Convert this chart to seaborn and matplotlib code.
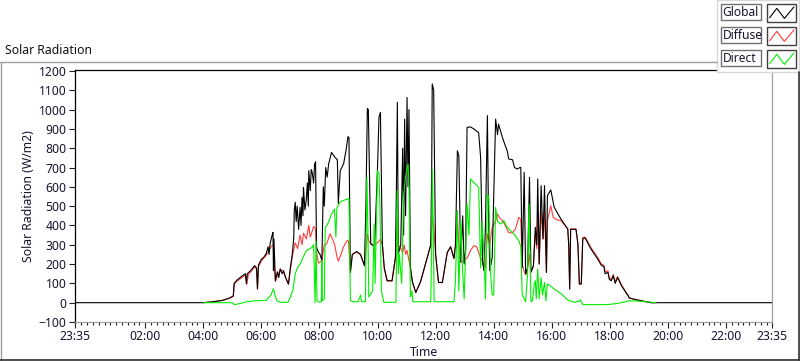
import pandas as pd
import matplotlib
matplotlib.use("Agg")
import matplotlib.pyplot as plt
import seaborn as sns
from matplotlib.lines import Line2D
from matplotlib.patches import Rectangle
from matplotlib.ticker import MultipleLocator, FuncFormatter

# Data ("-00:25" = 23:35 of the previous day)
global_time = [
    "-00:25", "04:00", "04:20", "04:40", "04:55", "05:02", "05:04", "05:10", "05:20", "05:27",
    "05:29", "05:31", "05:40", "05:46", "05:50", "05:52", "05:54", "06:00", "06:05", "06:10",
    "06:14", "06:16", "06:18", "06:22", "06:24", "06:25", "06:26", "06:29", "06:33", "06:36",
    "06:39", "06:43", "06:46", "06:50", "06:56", "07:00", "07:04", "07:07", "07:08", "07:10",
    "07:12", "07:14", "07:17", "07:20", "07:22", "07:24", "07:26", "07:27", "07:30", "07:33",
    "07:35", "07:37", "07:38", "07:41", "07:43", "07:45", "07:48", "07:50", "07:52", "07:54",
    "07:58", "08:01", "08:05", "08:08", "08:10", "08:13", "08:16", "08:19", "08:25", "08:33",
    "08:37", "08:39", "08:43", "08:50", "08:55", "08:59", "09:01", "09:04", "09:08", "09:17",
    "09:25", "09:33", "09:36", "09:39", "09:41", "09:46", "09:54", "10:00", "10:03", "10:06",
    "10:10", "10:14", "10:20", "10:30", "10:37", "10:39", "10:41", "10:43", "10:48", "10:52",
    "10:54", "10:56", "10:58", "11:01", "11:03", "11:05", "11:08", "11:12", "11:19", "11:29",
    "11:39", "11:50", "11:52", "11:53", "11:56", "12:00", "12:06", "12:14", "12:24", "12:31",
    "12:38", "12:41", "12:45", "12:48", "12:52", "12:56", "12:59", "13:02", "13:05", "13:12",
    "13:19", "13:29", "13:33", "13:37", "13:40", "13:43", "13:47", "13:49", "13:52", "13:57",
    "14:04", "14:08", "14:10", "14:18", "14:23", "14:28", "14:31", "14:39", "14:43", "14:49",
    "14:54", "14:56", "14:59", "15:03", "15:06", "15:10", "15:14", "15:17", "15:22", "15:26",
    "15:29", "15:31", "15:34", "15:38", "15:42", "15:45", "15:49", "15:51", "15:58", "16:05",
    "16:19", "16:33", "16:35", "16:37", "16:39", "16:50", "16:54", "16:57", "17:01", "17:04",
    "17:09", "17:21", "17:35", "17:42", "17:48", "17:50", "17:56", "17:59", "18:03", "18:07",
    "18:11", "18:16", "18:24", "18:35", "18:38", "18:40", "18:50", "19:05", "19:25", "23:35",
]
global_wm2 = [
    0, 0, 5, 12, 25, 35, 100, 118, 138, 150,
    98, 150, 172, 192, 180, 72, 195, 225, 235, 255,
    290, 250, 304, 347, 364, 166, 330, 114, 160, 130,
    175, 150, 165, 131, 97, 183, 252, 338, 477, 520,
    420, 500, 380, 494, 400, 545, 450, 597, 480, 537,
    620, 500, 684, 580, 690, 675, 620, 718, 730, 287,
    260, 252, 218, 600, 500, 700, 650, 718, 778, 750,
    740, 513, 684, 720, 790, 860, 855, 157, 250, 265,
    250, 192, 500, 1005, 1000, 305, 290, 700, 960, 986,
    305, 180, 114, 114, 235, 600, 1037, 253, 300, 800,
    350, 950, 450, 1063, 600, 1000, 183, 110, 53, 110,
    200, 300, 700, 1133, 1100, 253, 105, 105, 260, 290,
    230, 300, 787, 760, 210, 450, 200, 270, 908, 910,
    900, 880, 752, 218, 166, 400, 969, 500, 166, 235,
    951, 870, 925, 856, 820, 787, 744, 740, 700, 692,
    700, 700, 183, 675, 149, 180, 649, 160, 190, 390,
    300, 641, 200, 606, 330, 606, 157, 554, 584, 494,
    433, 382, 300, 71, 380, 380, 304, 97, 97, 330,
    335, 278, 226, 195, 185, 150, 157, 120, 114, 140,
    100, 130, 88, 45, 38, 24, 18, 10, 0, 0,
]

diffuse_time = [
    "04:00", "04:20", "04:40", "04:55", "05:02", "05:04", "05:10", "05:20", "05:28", "05:30",
    "05:33", "05:40", "05:45", "05:50", "05:52", "05:54", "06:00", "06:05", "06:10", "06:20",
    "06:25", "06:27", "06:29", "06:33", "06:39", "06:45", "06:50", "06:56", "07:00", "07:04",
    "07:10", "07:15", "07:20", "07:24", "07:27", "07:33", "07:38", "07:41", "07:45", "07:48",
    "07:52", "07:54", "07:58", "08:01", "08:05", "08:10", "08:15", "08:22", "08:27", "08:32",
    "08:36", "08:39", "08:43", "08:50", "08:57", "09:00", "09:04", "09:08", "09:17", "09:25",
    "09:33", "09:37", "09:39", "09:42", "09:46", "09:52", "10:00", "10:04", "10:06", "10:10",
    "10:14", "10:20", "10:30", "10:37", "10:41", "10:43", "10:48", "10:52", "10:55", "10:58",
    "11:01", "11:04", "11:08", "11:12", "11:19", "11:29", "11:39", "11:50", "11:53", "11:56",
    "12:00", "12:06", "12:14", "12:24", "12:31", "12:38", "12:41", "12:45", "12:48", "12:52",
    "12:59", "13:05", "13:12", "13:19", "13:25", "13:33", "13:37", "13:40", "13:43", "13:47",
    "13:52", "13:57", "14:04", "14:08", "14:12", "14:18", "14:24", "14:31", "14:38", "14:45",
    "14:52", "14:56", "14:59", "15:03", "15:06", "15:10", "15:14", "15:17", "15:22", "15:26",
    "15:29", "15:31", "15:34", "15:38", "15:42", "15:45", "15:49", "15:51", "15:58", "16:03",
    "16:10", "16:19", "16:33", "16:35", "16:37", "16:39", "16:50", "16:54", "16:57", "17:01",
    "17:04", "17:09", "17:21", "17:35", "17:42", "17:48", "17:50", "17:56", "17:59", "18:03",
    "18:07", "18:11", "18:16", "18:24", "18:35", "18:40", "18:50", "19:05", "19:25", "19:35",
]
diffuse_wm2 = [
    0, 5, 12, 24, 33, 98, 112, 130, 145, 95,
    145, 165, 185, 175, 70, 185, 215, 230, 245, 290,
    300, 180, 110, 140, 170, 165, 130, 95, 170, 240,
    310, 280, 350, 300, 360, 330, 400, 340, 370, 395,
    380, 260, 205, 210, 218, 300, 305, 357, 330, 295,
    240, 215, 240, 290, 321, 320, 160, 250, 262, 248,
    190, 300, 357, 320, 305, 300, 310, 321, 330, 300,
    175, 112, 112, 233, 442, 300, 280, 260, 300, 250,
    270, 230, 180, 108, 52, 108, 198, 298, 442, 400,
    250, 104, 104, 258, 288, 228, 290, 442, 300, 210,
    218, 230, 270, 295, 290, 230, 215, 166, 183, 357,
    300, 390, 425, 459, 440, 425, 400, 364, 360, 382,
    442, 430, 200, 160, 145, 180, 250, 155, 190, 357,
    280, 459, 200, 477, 330, 477, 157, 425, 502, 442,
    430, 425, 382, 300, 70, 382, 382, 305, 97, 97,
    338, 340, 285, 234, 202, 192, 160, 165, 128, 120,
    146, 108, 136, 92, 48, 26, 18, 10, 0, 0,
]

direct_time = [
    "04:00", "05:00", "05:04", "05:15", "05:30", "05:50", "06:10", "06:20", "06:25", "06:28",
    "06:32", "06:40", "06:55", "07:00", "07:05", "07:10", "07:15", "07:20", "07:25", "07:33",
    "07:40", "07:45", "07:48", "07:51", "07:53", "07:55", "08:00", "08:04", "08:05", "08:06",
    "08:10", "08:12", "08:17", "08:25", "08:31", "08:34", "08:36", "08:42", "08:50", "08:59",
    "09:01", "09:04", "09:10", "09:20", "09:25", "09:27", "09:35", "09:38", "09:40", "09:42",
    "09:46", "09:50", "09:53", "09:55", "10:00", "10:03", "10:05", "10:08", "10:13", "10:38",
    "10:41", "10:43", "10:45", "10:50", "10:54", "10:58", "11:01", "11:03", "11:05", "11:08",
    "11:11", "11:13", "11:50", "11:52", "11:53", "11:55", "11:57", "12:38", "12:41", "12:45",
    "12:48", "12:52", "12:55", "12:59", "13:02", "13:05", "13:09", "13:12", "13:29", "13:33",
    "13:36", "13:40", "13:43", "13:47", "13:50", "13:54", "13:57", "14:00", "14:04", "14:08",
    "14:15", "14:21", "14:28", "14:42", "14:52", "14:56", "14:59", "15:06", "15:10", "15:13",
    "15:17", "15:20", "15:24", "15:26", "15:28", "15:31", "15:34", "15:38", "15:41", "15:45",
    "15:48", "15:51", "15:58", "16:05", "16:20", "16:33", "16:47", "16:57", "16:59", "17:02",
    "17:04", "17:50", "18:03", "18:24", "18:40", "19:00", "19:25", "19:35",
]
direct_wm2 = [
    0, 0, -10, -5, 5, 10, 12, 40, 72, 40,
    10, 2, 2, 30, 62, 150, 183, 200, 228, 270,
    280, 287, 300, 0, 320, 10, 2, 5, 218, 10,
    20, 390, 407, 459, 485, 340, 490, 520, 530, 537,
    540, 10, 5, 5, 40, 5, 5, 649, 400, 30,
    45, 60, 408, 100, 684, 667, 500, 62, 2, 2,
    580, 150, 250, 100, 560, 650, 700, 718, 600, 30,
    60, 5, 5, 300, 692, 420, 5, 5, 114, 477,
    60, 425, 200, 20, 250, 511, 350, 641, 597, 180,
    420, 250, 20, 563, 540, 130, 40, 40, 494, 420,
    407, 425, 390, 356, 321, 290, 40, 5, 150, 511,
    5, 10, 100, 114, 20, 174, 20, 130, 40, 105,
    10, 97, 85, 71, 45, 14, 2, 8, 15, 0,
    -10, -10, -8, 0, 10, 8, 2, 0,
]


def to_hours(times):
    return [pd.to_timedelta(t + ":00").total_seconds() / 3600 for t in times]


def hhmm(h, pos=None):
    m = int(round(h * 60)) % 1440
    return f"{m // 60:02d}:{m % 60:02d}"


df_global = pd.DataFrame({"hour": to_hours(global_time), "wm2": global_wm2})
df_diffuse = pd.DataFrame({"hour": to_hours(diffuse_time), "wm2": diffuse_wm2})
df_direct = pd.DataFrame({"hour": to_hours(direct_time), "wm2": direct_wm2})

sns.set_style("ticks")
plt.rcParams["font.family"] = ["Noto Sans", "DejaVu Sans"]
TXT = "#151530"
FS = 8.8

W, H = 800, 361
fig = plt.figure(figsize=(W / 100, H / 100), dpi=100)
fig.patch.set_facecolor("white")


def fx(x):
    return x / W


def fy(y):
    return 1 - y / H


ax = fig.add_axes([fx(75), fy(322), fx(772) - fx(75), fy(70) - fy(322)])

series = [
    (df_global, "Global", "black", 2),
    (df_diffuse, "Diffuse", "#ff3c3c", 1),
    (df_direct, "Direct", "#00ee00", 3),
]
for d, name, col, z in series:
    sns.lineplot(data=d, x="hour", y="wm2", ax=ax, color=col, lw=0.8,
                 estimator=None, sort=False, legend=False, zorder=z)

t_start = to_hours(["-00:25"])[0]
t_end = to_hours(["23:35"])[0]
ax.set_xlim(t_start, t_end)
ax.set_ylim(-100, 1205)
ax.set_yticks(range(-100, 1201, 100))
ax.set_xticks([t_start] + list(range(2, 23, 2)) + [t_end])
ax.xaxis.set_major_formatter(FuncFormatter(hhmm))
ax.xaxis.set_minor_locator(MultipleLocator(0.2))

ax.tick_params(axis="both", which="major", length=4, width=0.8, color="#202020",
               labelsize=FS, labelcolor=TXT, pad=2)
ax.tick_params(axis="x", which="minor", length=2.5, width=0.8, color="#202020")
ax.set_xlabel("Time", fontsize=FS, color=TXT, labelpad=2)
ax.set_ylabel("Solar Radiation (W/m2)", fontsize=FS, color=TXT, labelpad=3)

for side, col in [("top", "black"), ("left", "black"), ("bottom", "#a0a0a0"), ("right", "#a0a0a0")]:
    ax.spines[side].set_visible(True)
    ax.spines[side].set_color(col)
    ax.spines[side].set_linewidth(0.9)
ax.grid(False)

# outer LabVIEW-style frame
fig.add_artist(Line2D([fx(0), fx(717)], [fy(61.5)] * 2, color="#a0a0a0", lw=1))
fig.add_artist(Line2D([fx(1), fx(1)], [fy(61.5), fy(360)], color="#a0a0a0", lw=1))
fig.add_artist(Line2D([fx(0), fx(800)], [fy(360)] * 2, color="#303030", lw=1.2))
fig.add_artist(Line2D([fx(799)] * 2, [fy(72), fy(360)], color="#303030", lw=1.2))
fig.text(fx(5), fy(50), "Solar Radiation", fontsize=FS, color="#111111", va="center", ha="left")

# legend panel
fig.add_artist(Rectangle((fx(717), fy(72)), fx(82), fy(0) - fy(72), facecolor="white",
                         edgecolor="#d8d8d8", lw=1))
for i, (d, name, col, z) in enumerate(series):
    top = 4 + i * 23
    fig.add_artist(Rectangle((fx(721), fy(top + 16)), fx(40), fy(top) - fy(top + 16),
                             facecolor="white", edgecolor="#707070", lw=1))
    fig.text(fx(722.5), fy(top + 8.5), name, fontsize=8.6, color=TXT, va="center", ha="left")
    bx, bw, bh = 767, 29, 18
    fig.add_artist(Rectangle((fx(bx), fy(top + bh)), fx(bw), fy(top) - fy(top + bh),
                             facecolor="white", edgecolor="#404040", lw=1))
    zx = [0.09, 0.34, 0.6, 0.93]
    zy = [0.24, 0.76, 0.2, 0.84]
    fig.add_artist(Line2D([fx(bx + bw * a) for a in zx], [fy(top + bh * (1 - b)) for b in zy],
                          color=col, lw=0.8))

fig.savefig("out.png", dpi=100)
